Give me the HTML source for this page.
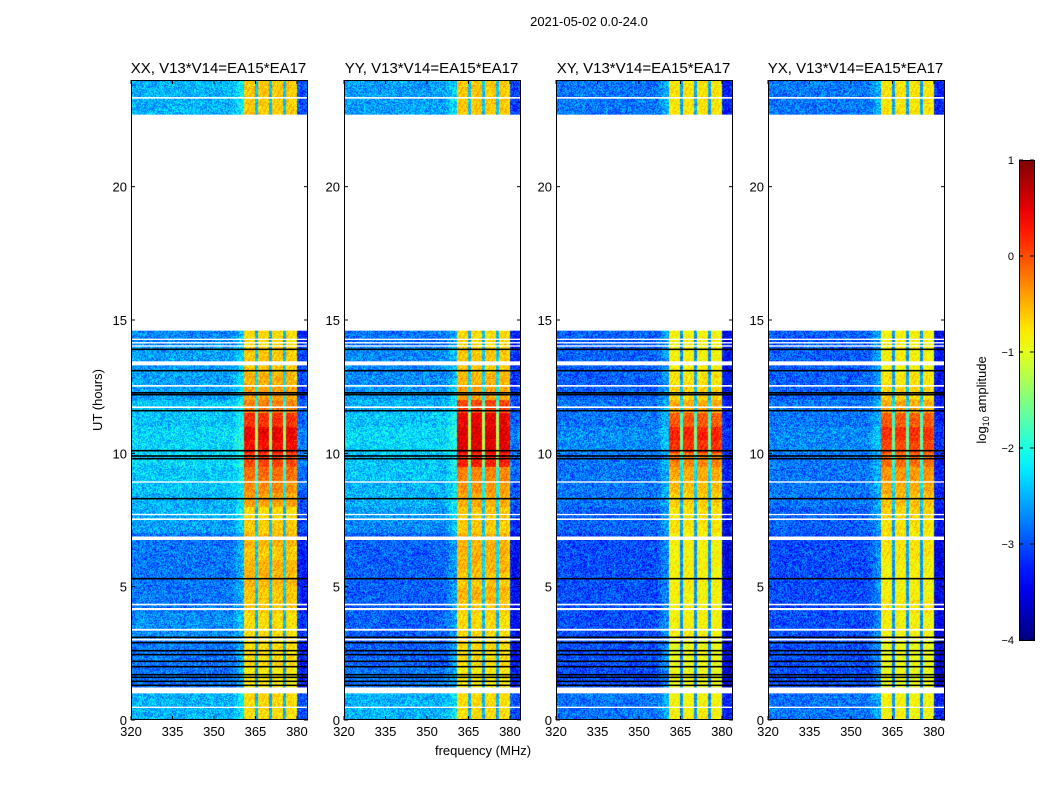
<!DOCTYPE html>
<html><head><meta charset="utf-8"><style>
body{margin:0;background:#fff;width:1050px;height:800px;position:relative;overflow:hidden;font-family:"Liberation Sans",sans-serif}
canvas{position:absolute}
svg{position:absolute;left:0;top:0}
</style></head><body>
<div id="root"></div>
<svg id="ov" width="1050" height="800"></svg>
<script>
// ---- data ----
const panelTitles=["XX, V13*V14=EA15*EA17","YY, V13*V14=EA15*EA17","XY, V13*V14=EA15*EA17","YX, V13*V14=EA15*EA17"];
const xTicks=[320,335,350,365,380];
const yTicks=[0,5,10,15,20];
const cbTicks=[-4,-3,-2,-1,0,1];
// 64 channels 320..383 MHz: relative spectrum offset
const specOffset=[0,0,0,0,0,0,0,0,0,0, 0,0,0,0,0,0,0,0,0,0, 0,0,0,0,0,0,0,0,0,0, 0,0,0,0,0,0,0,0.1,0.2,0.3,
 0.3,0,0,0,0,-1.8,0,0,0,0,-1.8,0,0,0,0,-1.8,0,0,0,-0.1, -0.4,-0.5,-0.5,-0.4];
const inBand=[0,0,0,0,0,0,0,0,0,0, 0,0,0,0,0,0,0,0,0,0, 0,0,0,0,0,0,0,0,0,0, 0,0,0,0,0,0,0,0,0,0,
 0,1,1,1,1,1,1,1,1,1,1,1,1,1,1,1,1,1,1,1, 0,0,0,0];
// 48 half-hour rows, 0..24 h : band (RFI) level per panel
const rfiXX=[-0.75,-0.75,-0.85,-0.85,-0.75,-0.75,-0.75,-0.75,-0.65,-0.65,-0.55,-0.55,-0.65,-0.55,-0.65,-0.75,-0.45,-0.35,-0.2,0.0,0.3,0.4,0.1,-0.3,-0.45,-0.55,-0.65,-0.65,-0.75,-0.75,-0.75,-0.75,-0.75,-0.75,-0.75,-0.75,-0.75,-0.75,-0.75,-0.75,-0.75,-0.75,-0.75,-0.75,-0.75,-0.65,-0.65,-0.65];
const rfiYY=[-0.75,-0.75,-0.85,-0.85,-0.75,-0.75,-0.75,-0.75,-0.65,-0.55,-0.65,-0.55,-0.55,-0.55,-0.65,-0.65,-0.5,-0.4,-0.3,0.2,0.5,0.5,0.4,0.0,-0.45,-0.55,-0.65,-0.65,-0.75,-0.75,-0.75,-0.75,-0.75,-0.75,-0.75,-0.75,-0.75,-0.75,-0.75,-0.75,-0.75,-0.75,-0.75,-0.75,-0.75,-0.65,-0.65,-0.65];
const rfiXY=[-0.9,-0.9,-1.0,-1.0,-1.0,-1.0,-0.9,-0.9,-0.9,-0.9,-0.9,-0.9,-0.9,-0.9,-0.8,-0.8,-0.7,-0.6,-0.5,-0.3,0.1,0.2,-0.1,-0.5,-0.7,-0.8,-0.9,-0.9,-0.9,-0.9,-0.9,-0.9,-0.9,-0.9,-0.9,-0.9,-0.9,-0.9,-0.9,-0.9,-0.9,-0.9,-0.9,-0.9,-0.9,-0.8,-0.8,-0.8];
const rfiYX=[-0.9,-0.9,-1.0,-1.0,-1.0,-1.0,-0.9,-0.9,-0.8,-0.9,-0.9,-0.9,-0.8,-0.8,-0.8,-0.7,-0.6,-0.5,-0.4,-0.2,0.0,0.1,-0.1,-0.5,-0.7,-0.8,-0.9,-0.9,-0.9,-0.9,-0.9,-0.9,-0.9,-0.9,-0.9,-0.9,-0.9,-0.9,-0.9,-0.9,-0.9,-0.9,-0.9,-0.9,-0.9,-0.8,-0.8,-0.8];
// background level per panel
const bgXX=[-2.5,-2.5,-2.8,-2.8,-2.8,-2.8,-2.7,-2.7,-2.8,-2.8,-2.8,-2.8,-2.8,-2.8,-2.6,-2.5,-2.5,-2.4,-2.4,-2.3,-2.3,-2.3,-2.4,-2.4,-2.6,-2.6,-2.6,-2.6,-2.7,-2.7,-2.7,-2.7,-2.7,-2.7,-2.7,-2.7,-2.7,-2.7,-2.7,-2.7,-2.7,-2.7,-2.7,-2.7,-2.7,-2.5,-2.5,-2.5];
const bgYY=[-2.5,-2.5,-2.8,-2.8,-2.9,-2.9,-2.9,-2.9,-2.9,-2.9,-2.9,-2.9,-2.9,-2.9,-2.7,-2.6,-2.5,-2.5,-2.4,-2.4,-2.3,-2.3,-2.4,-2.5,-2.6,-2.7,-2.7,-2.7,-2.8,-2.8,-2.8,-2.8,-2.8,-2.8,-2.8,-2.8,-2.8,-2.8,-2.8,-2.8,-2.8,-2.8,-2.8,-2.8,-2.8,-2.6,-2.6,-2.6];
const bgXY=[-2.8,-2.8,-3.0,-3.0,-3.0,-3.0,-3.0,-3.0,-3.0,-3.0,-3.0,-3.0,-3.0,-3.0,-2.9,-2.9,-2.8,-2.8,-2.8,-2.8,-2.7,-2.7,-2.8,-2.8,-2.9,-2.9,-2.9,-2.9,-2.9,-2.9,-2.9,-2.9,-2.9,-2.9,-2.9,-2.9,-2.9,-2.9,-2.9,-2.9,-2.9,-2.9,-2.9,-2.9,-2.9,-2.8,-2.8,-2.8];
const bgYX=[-2.8,-2.8,-3.0,-3.0,-3.0,-3.0,-3.0,-3.0,-3.0,-3.0,-3.0,-3.0,-3.0,-3.0,-2.9,-2.9,-2.8,-2.8,-2.8,-2.8,-2.7,-2.7,-2.8,-2.8,-2.9,-2.9,-2.9,-2.9,-2.9,-2.9,-2.9,-2.9,-2.9,-2.9,-2.9,-2.9,-2.9,-2.9,-2.9,-2.9,-2.9,-2.9,-2.9,-2.9,-2.9,-2.8,-2.8,-2.8];
const rfiLevels=[rfiXX,rfiYY,rfiXY,rfiYX];
const bgLevels=[bgXX,bgYY,bgXY,bgYX];
// flagged (no data) intervals in hours, and black rows
const gapStart=[1.0,14.6,2.98,3.35,4.12,4.3,6.75,7.5,7.68,8.9,11.7,12.5,13.3,14.0,14.12,14.25,23.3,0.45];
const gapEnd  =[1.22,22.7,3.05,3.42,4.2,4.36,6.88,7.56,7.73,8.95,11.76,12.56,13.45,14.05,14.17,14.3,23.36,0.5];
const blackLines=[1.3,1.45,1.6,1.7,2.0,2.2,2.45,2.6,2.9,3.1,5.3,8.3,9.8,9.9,10.1,11.6,12.2,12.27,13.1,13.9];

// ---- layout ----
const panelX=[131,344,556,768], PW=177, PT=80, PB=720;
const F0=320,F1=384,H0=0,H1=24;
const xs=(p,f)=>panelX[p]+(f-F0)/(F1-F0)*PW;
const ys=h=>PB-(h-H0)/(H1-H0)*(PB-PT);
function jet(v){ // v in [-4,1]
  let t=Math.max(0,Math.min(1,(v+4)/5));
  const c=x=>Math.max(0,Math.min(1,x));
  return [c(1.5-Math.abs(4*t-3)),c(1.5-Math.abs(4*t-2)),c(1.5-Math.abs(4*t-1))].map(x=>Math.round(x*255));
}
function hash(a,b,s){let h=(a*374761393+b*668265263+s*1442695041)|0;h=(h^(h>>>13))*1274126177|0;return ((h^(h>>>16))>>>0)/4294967296;}
const root=document.getElementById('root');
const NS='http://www.w3.org/2000/svg', ov=document.getElementById('ov');
function el(tag,attrs,parent){const e=document.createElementNS(NS,tag);for(const k in attrs)e.setAttribute(k,attrs[k]);(parent||ov).appendChild(e);return e;}

for(let p=0;p<4;p++){
  const cv=document.createElement('canvas');cv.width=PW;cv.height=PB-PT;
  cv.style.left=panelX[p]+'px';cv.style.top=PT+'px';
  
  
  root.appendChild(cv);
  const ctx=cv.getContext('2d'),img=ctx.createImageData(PW,PB-PT);
  for(let py=0;py<PB-PT;py++){
    const h=H1-(py+0.5)/(PB-PT)*(H1-H0);const r=Math.min(47,Math.floor(h*2));
    for(let px=0;px<PW;px++){
      const f=F0+(px+0.5)/PW*(F1-F0);const ch=Math.min(63,Math.floor(f-F0));
      const band=inBand[ch];
      let v=specOffset[ch]+(band?rfiLevels[p][r]:bgLevels[p][r]);
      const n=hash(px,py,p)-0.5;
      v+=band?n*0.5+(((px*2+py)%9)<2?0.2:0):n*0.9;
      const c=jet(v),i=(py*PW+px)*4;
      img.data[i]=c[0];img.data[i+1]=c[1];img.data[i+2]=c[2];img.data[i+3]=255;
    }
  }
  ctx.putImageData(img,0,0);
}
// overlay
el('text',{x:589,y:26,'font-size':13,'text-anchor':'middle',}).textContent='2021-05-02 0.0-24.0';
for(let p=0;p<4;p++){
  const g=el('g',{});
  for(let i=0;i<gapStart.length;i++){
    const r=el('rect',{x:panelX[p],y:ys(gapEnd[i]),width:PW,height:ys(gapStart[i])-ys(gapEnd[i]),fill:'#fff'},g);
    
  }
  for(const b of blackLines){
    const l=el('rect',{x:panelX[p],y:ys(b)-0.8,width:PW,height:1.6,fill:'#000'},g);
    
  }
  el('rect',{x:panelX[p]+0.5,y:PT+0.5,width:PW-1,height:PB-PT-1,fill:'none',stroke:'#000','stroke-width':1,},g);
  el('text',{x:panelX[p]+PW/2-1,y:73,'font-size':15,'text-anchor':'middle',},g).textContent=panelTitles[p];
  for(const t of xTicks){const x=xs(p,t);
    el('line',{x1:x,x2:x,y1:PB,y2:PB-4,stroke:'#000'},g);el('line',{x1:x,x2:x,y1:PT,y2:PT+4,stroke:'#000'},g);
    el('text',{x:x,y:PB+16,'font-size':13,'text-anchor':'middle',},g).textContent=t;}
  for(const t of yTicks){const y=ys(t);
    el('line',{x1:panelX[p],x2:panelX[p]+4,y1:y,y2:y,stroke:'#000'},g);el('line',{x1:panelX[p]+PW,x2:panelX[p]+PW-4,y1:y,y2:y,stroke:'#000'},g);
    el('text',{x:panelX[p]-4,y:y+5,'font-size':13,'text-anchor':'end',},g).textContent=t;}
}
el('text',{x:483,y:755,'font-size':13,'text-anchor':'middle',}).textContent='frequency (MHz)';
el('text',{x:0,y:0,'font-size':13,'text-anchor':'middle',transform:'translate(102,400) rotate(-90)',}).textContent='UT (hours)';
// colorbar
const cb=el('g',{});
const defs=el('defs',{},cb);const lg=el('linearGradient',{id:'jetg',x1:0,y1:1,x2:0,y2:0},defs);
for(let i=0;i<=20;i++){const v=-4+i*5/20,c=jet(v);el('stop',{offset:i/20,'stop-color':`rgb(${c})`},lg);}
el('rect',{x:1019.5,y:160.5,width:15,height:480,fill:'url(#jetg)',stroke:'#000'},cb);
for(const t of cbTicks){const y=640-(t+4)/5*480;
  el('line',{x1:1019,x2:1023,y1:y,y2:y,stroke:'#000'},cb);el('line',{x1:1034,x2:1030,y1:y,y2:y,stroke:'#000'},cb);
  el('text',{x:1014,y:y+4,'font-size':11,'text-anchor':'end',},cb).textContent=t<0?'\u2212'+(-t):t;}
const ct=el('text',{x:0,y:0,'font-size':13,'text-anchor':'middle',transform:'translate(986,400) rotate(-90)',},cb);
ct.innerHTML='log<tspan font-size="9" dy="3">10</tspan><tspan dy="-3"> amplitude</tspan>';
</script></body></html>
